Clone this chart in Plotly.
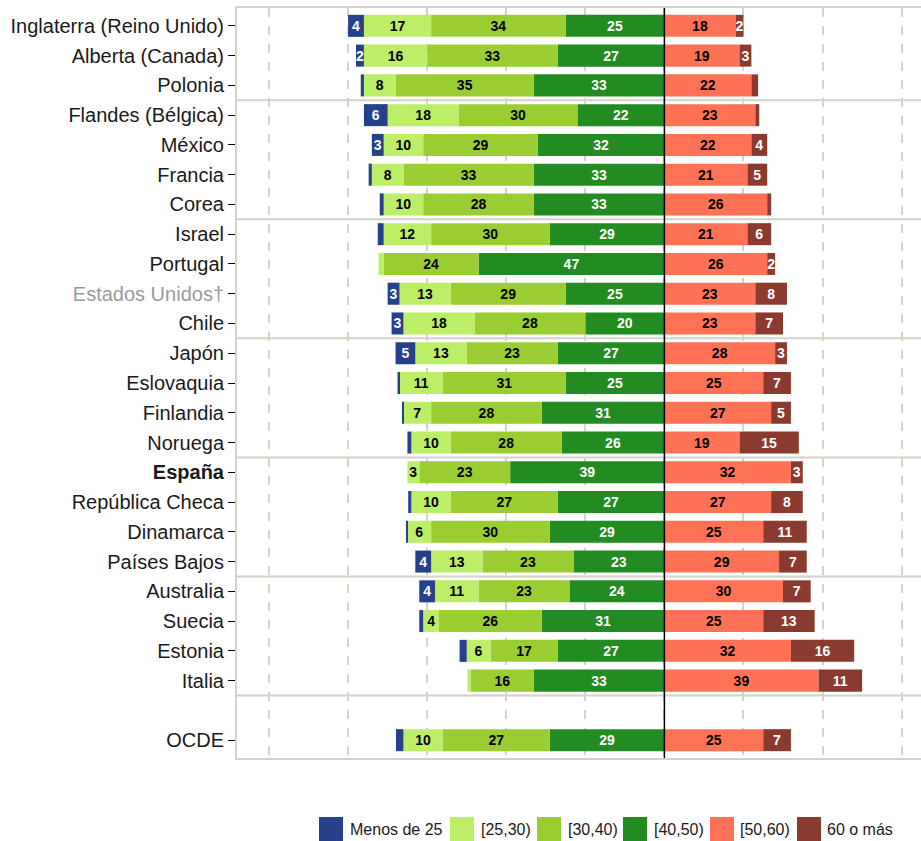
import plotly.graph_objects as go

countries = [
    "Inglaterra (Reino Unido)", "Alberta (Canada)", "Polonia", "Flandes (Bélgica)",
    "México", "Francia", "Corea", "Israel", "Portugal", "Estados Unidos†", "Chile",
    "Japón", "Eslovaquia", "Finlandia", "Noruega", "España", "República Checa",
    "Dinamarca", "Países Bajos", "Australia", "Suecia", "Estonia", "Italia", "", "OCDE",
]
menos25 = [4, 2, 0.8, 6, 3, 0.8, 1.0, 1.5, 0, 3, 3, 5, 0.5, 0.3, 1.0, 0, 0.8, 0.3, 4, 4, 1.0, 1.8, 0, None, 1.9]
a25_30 = [17, 16, 8, 18, 10, 8, 10, 12, 1.3, 13, 18, 13, 11, 7, 10, 3, 10, 6, 13, 11, 4, 6, 0.8, None, 10]
a30_40 = [34, 33, 35, 30, 29, 33, 28, 30, 24, 29, 28, 23, 31, 28, 28, 23, 27, 30, 23, 23, 26, 17, 16, None, 27]
a40_50 = [25, 27, 33, 22, 32, 33, 33, 29, 47, 25, 20, 27, 25, 31, 26, 39, 27, 29, 23, 24, 31, 27, 33, None, 29]
a50_60 = [18, 19, 22, 23, 22, 21, 26, 21, 26, 23, 23, 28, 25, 27, 19, 32, 27, 25, 29, 30, 25, 32, 39, None, 25]
mas60 = [2, 3, 1.7, 1.0, 4, 5, 1.0, 6, 2, 8, 7, 3, 7, 5, 15, 3, 8, 11, 7, 7, 13, 16, 11, None, 7]

series_names = ["Menos de 25", "[25,30)", "[30,40)", "[40,50)", "[50,60)", "60 o más"]
colors = ["#27408B", "#BCEE68", "#9ACD32", "#228B22", "#FF7256", "#8B3A30"]
text_colors = ["white", "black", "black", "white", "black", "white"]
xtick_vals = [-100, -80, -60, -40, -20, 0, 20, 40, 60]

ypos = list(range(len(countries)))


def labels(vals):
    return ["" if (v is None or v < 2) else str(int(round(v))) for v in vals]


fig = go.Figure()

left = [(3, a40_50), (2, a30_40), (1, a25_30), (0, menos25)]
right = [(4, a50_60), (5, mas60)]
for side, group in (("L", left), ("R", right)):
    for idx, vals in group:
        xs = [None if v is None else (-v if side == "L" else v) for v in vals]
        fig.add_trace(go.Bar(
            y=ypos, x=xs, orientation="h",
            name=series_names[idx], marker=dict(color=colors[idx], line=dict(width=0)),
            text=labels(vals), textposition="inside", insidetextanchor="middle",
            textangle=0, constraintext="none",
            textfont=dict(color=text_colors[idx], size=14, family="Liberation Sans", weight="bold"),
            width=0.74, showlegend=False, hoverinfo="skip",
        ))

ticktext = []
for c in countries:
    if c == "España":
        ticktext.append("<b>España</b>")
    elif c == "Estados Unidos†":
        ticktext.append("<span style='color:#9a9a9a'>Estados Unidos†</span>")
    else:
        ticktext.append(c)

tv = [i for i, c in enumerate(countries) if c != ""]
tt = [ticktext[i] for i in tv]

W, H = 921, 841
L, R, T, B = 237, 0, 8, 83
pw, ph = W - L - R, H - T - B

shapes = []
for yv in [2.5, 6.5, 10.5, 14.5, 18.5, 22.5]:
    shapes.append(dict(type="line", xref="paper", yref="y", x0=0, x1=1, y0=yv, y1=yv,
                       line=dict(color="#d2d2c8", width=2), layer="below"))
shapes.append(dict(type="line", xref="x", yref="paper", x0=0, x1=0, y0=0, y1=1,
                   line=dict(color="black", width=1.5), layer="above"))

leg_sq = [319, 450, 537, 623, 710, 797]
leg_tx = [348, 479, 566, 652, 738, 825]
annotations = []
for i in range(6):
    x0 = (leg_sq[i] - L) / pw
    x1 = (leg_sq[i] + 24 - L) / pw
    y0 = (H - B - 817) / ph
    y1 = (H - B - 841) / ph
    shapes.append(dict(type="rect", xref="paper", yref="paper", x0=x0, x1=x1, y0=y1, y1=y0,
                       fillcolor=colors[i], line=dict(width=0)))
    annotations.append(dict(xref="paper", yref="paper", x=(leg_tx[i] - L) / pw,
                            y=(H - B - 829) / ph, text=series_names[i], showarrow=False,
                            xanchor="left", yanchor="middle",
                            font=dict(size=16, color="#1a1a1a", family="Liberation Sans")))

fig.update_layout(
    width=W, height=H, barmode="relative",
    margin=dict(l=L, r=R, t=T, b=B, pad=0),
    paper_bgcolor="white", plot_bgcolor="white",
    font=dict(family="Liberation Sans, Arial, sans-serif", color="#1a1a1a"),
    shapes=shapes, annotations=annotations,
    xaxis=dict(range=[-108.1, 64.9], tickvals=xtick_vals, showticklabels=False,
               showgrid=True, gridcolor="#d4d4cc", gridwidth=1.5, griddash="dash",
               zeroline=False, showline=True, linecolor="#d2d2c8", linewidth=2,
               mirror=True, ticks="", fixedrange=True),
    yaxis=dict(range=[24.6, -0.6], tickvals=tv, ticktext=tt, showgrid=False,
               zeroline=False, showline=True, linecolor="#d2d2c8", linewidth=2,
               ticks="outside", ticklen=7, tickcolor="black", tickwidth=1,
               tickfont=dict(size=20, color="#1a1a1a", family="Liberation Sans"),
               fixedrange=True),
)

fig.write_html("out.html", config={"displayModeBar": False},
               post_script="document.body.style.margin='0';document.body.style.overflow='hidden';")
